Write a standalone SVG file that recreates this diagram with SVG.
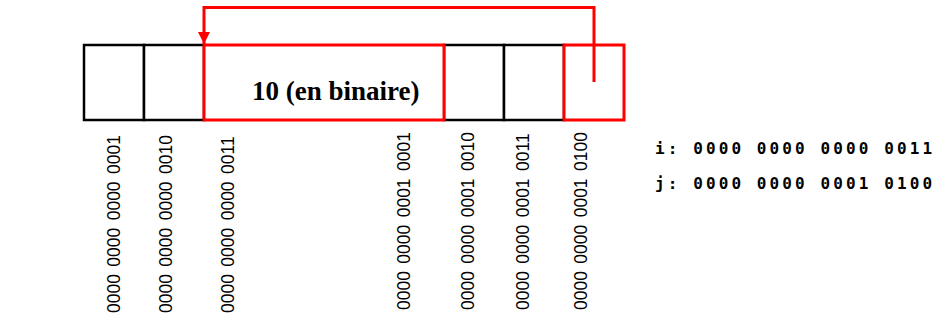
<svg xmlns="http://www.w3.org/2000/svg" width="937" height="325" viewBox="0 0 937 325">
<defs>
<style>
.cell{fill:#fff;stroke:#000;stroke-width:2.5}
.red{fill:none;stroke:#f00;stroke-width:3}
.addr{font-family:"Liberation Sans",Arial,sans-serif;font-size:17.5px;fill:#000;word-spacing:2.6px}
.mono{font-family:"DejaVu Sans Mono","Liberation Mono",monospace;font-weight:bold;font-size:16px;letter-spacing:3.1px;fill:#000}
.val{font-family:"Liberation Serif","Times New Roman",serif;font-weight:bold;font-size:27px;fill:#000}
</style>
<marker id="ah" viewBox="0 0 10 10" refX="10" refY="5" markerWidth="4" markerHeight="4" orient="auto" markerUnits="strokeWidth">
<path d="M0,0 L10,5 L0,10 z" fill="#f00"/>
</marker>
</defs>
<g id="cell1"><rect class="cell" x="84" y="45" width="60" height="75"/>
<text class="addr" transform="translate(120,313) rotate(-90) scale(1,1.1)">0000 0000 0000 0001</text></g>
<g id="cell2"><rect class="cell" x="144" y="45" width="60" height="75"/>
<text class="addr" transform="translate(172,313) rotate(-90) scale(1,1.1)">0000 0000 0000 0010</text></g>
<g id="cell5"><rect class="cell" x="444" y="45" width="60" height="75"/>
<text class="addr" transform="translate(474,310) rotate(-90) scale(1,1.1)">0000 0000 0001 0010</text></g>
<g id="cell6"><rect class="cell" x="504" y="45" width="60" height="75"/>
<text class="addr" transform="translate(529,310) rotate(-90) scale(1,1.1)">0000 0000 0001 0011</text></g>
<g id="i"><rect class="red" style="fill:#fff" x="204" y="45" width="240" height="75"/>
<text class="val" x="252" y="100">10 (en binaire)</text>
<text class="addr" transform="translate(234,313) rotate(-90) scale(1,1.1)">0000 0000 0000 0011</text>
<text class="addr" transform="translate(410,310) rotate(-90) scale(1,1.1)">0000 0000 0001 0001</text></g>
<g id="j"><rect class="red" style="fill:#fff" x="564" y="45" width="60" height="75"/>
<text class="addr" transform="translate(587,310) rotate(-90) scale(1,1.1)">0000 0000 0001 0100</text></g>
<g id="vars">
<text class="mono" x="655" y="154">i: 0000 0000 0000 0011</text>
<text class="mono" x="655" y="189">j: 0000 0000 0001 0100</text>
</g>
<g id="connectors">
<path class="red" d="M594,82 V7.5 H204 V44" marker-end="url(#ah)"/>
</g>
</svg>
